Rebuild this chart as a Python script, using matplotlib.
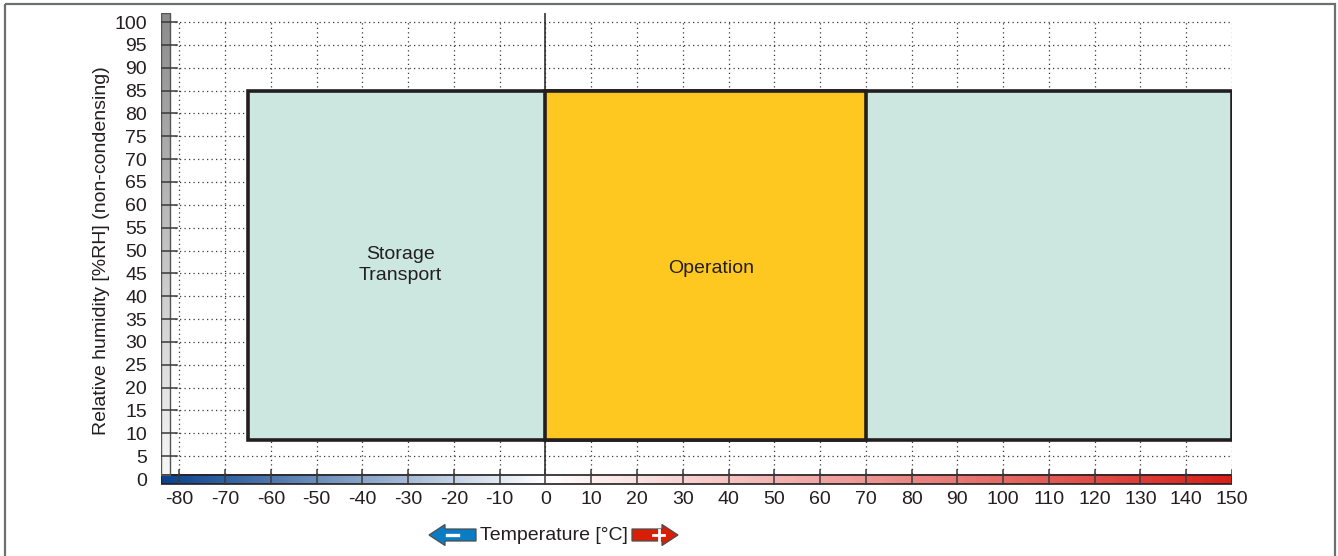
import numpy as np
import matplotlib.pyplot as plt
from matplotlib.colors import LinearSegmentedColormap
from matplotlib.patches import Rectangle, FancyArrow

plt.rcParams['font.family'] = ['Liberation Sans', 'DejaVu Sans']

# chart values
x_ticks = list(range(-80, 151, 10))
y_ticks = list(range(0, 101, 5))
storage_temp = [-65, 150]
operation_temp = [0, 70]
humidity = [8.5, 85]
storage_label = "Storage\nTransport"
operation_label = "Operation"
x_label = "Temperature [°C]"
y_label = "Relative humidity [%RH] (non-condensing)"

TXT = "#231f20"
FS = 14
X_MIN, X_MAX = -84, 150
Y_MIN, Y_MAX = -1.2, 102


def main():
    fig = plt.figure(figsize=(13.38, 5.56), dpi=100)
    fig.patch.set_facecolor("white")

    # pixel overlay for frame and arrows
    ov = fig.add_axes([0, 0, 1, 1], zorder=0)
    ov.set_xlim(0, 1338)
    ov.set_ylim(556, 0)
    ov.axis("off")
    ov.add_patch(Rectangle((5, 4), 1330, 600, fill=False, ec="#6d6e70", lw=1.6))

    ax = fig.add_axes([161 / 1338, (556 - 484.5) / 556, 1071 / 1338, 471.6 / 556], zorder=1)
    ax.set_xlim(X_MIN, X_MAX)
    ax.set_ylim(Y_MIN, Y_MAX)
    ax.patch.set_alpha(0)
    for s in ax.spines.values():
        s.set_visible(False)

    # grid
    for x in x_ticks:
        ax.plot([x, x], [1, 100], ls=(0, (1, 2.6)), color="#3a3a3a", lw=0.9, zorder=1)
    for y in y_ticks[1:]:
        ax.plot([-81, 150], [y, y], ls=(0, (1, 2.6)), color="#3a3a3a", lw=0.9, zorder=1)

    # boxes
    ax.add_patch(Rectangle((storage_temp[0], humidity[0]), storage_temp[1] - storage_temp[0],
                           humidity[1] - humidity[0], fc="#cbe7df", ec=TXT, lw=2.6, zorder=3))
    ax.add_patch(Rectangle((operation_temp[0], humidity[0]), operation_temp[1] - operation_temp[0],
                           humidity[1] - humidity[0], fc="#fec820", ec=TXT, lw=2.6, zorder=4))
    ax.plot([0, 0], [1, Y_MAX], color=TXT, lw=1.1, zorder=2)

    ax.text(-31.7, 46.8, storage_label,
            ha="center", va="center", fontsize=FS, color=TXT, linespacing=1.3, zorder=5)
    ax.text(36.3, 46.0, operation_label,
            ha="center", va="center", fontsize=FS, color=TXT, zorder=5)

    # temperature colour bar
    cmap = LinearSegmentedColormap.from_list(
        "temp", [(0, "#0a428c"), ((0 - X_MIN) / (X_MAX - X_MIN), "#ffffff"), (1, "#d7201a")])
    grad = np.linspace(0, 1, 600).reshape(1, -1)
    ax.imshow(grad, cmap=cmap, aspect="auto", extent=(X_MIN, X_MAX, -1.1, 0.9), zorder=2)
    ax.add_patch(Rectangle((X_MIN, -1.1), X_MAX - X_MIN, 2.0, fill=False, ec=TXT, lw=1.2, zorder=3))

    # humidity grey bar
    vgrad = np.linspace(1, 0, 300).reshape(-1, 1)
    gcmap = LinearSegmentedColormap.from_list("hum", ["#f7f7f7", "#8c8c8c"])
    ax.imshow(vgrad, cmap=gcmap, aspect="auto", extent=(X_MIN, X_MIN + 2, 0.9, Y_MAX), zorder=2)
    ax.add_patch(Rectangle((X_MIN, 0.9), 2, Y_MAX - 0.9, fill=False, ec="#555555", lw=1.0, zorder=3))

    # tick marks
    for x in x_ticks:
        ax.plot([x, x], [-1.3, 2.0], color="#3a3a3a", lw=1.1, zorder=4)
    for y in y_ticks[1:]:
        ax.plot([-84.8, -80.6], [y, y], color="#3a3a3a", lw=1.1, zorder=4)

    ax.set_xticks(x_ticks)
    ax.set_xticklabels([str(v) for v in x_ticks])
    ax.set_yticks(y_ticks)
    ax.set_yticklabels([str(v) for v in y_ticks])
    ax.tick_params(axis="x", length=0, pad=5, labelsize=FS, labelcolor=TXT)
    ax.tick_params(axis="y", length=0, pad=10, labelsize=FS, labelcolor=TXT)

    fig.text(102 / 1338, 1 - 251 / 556, y_label, rotation=90, ha="center", va="center",
             fontsize=FS, color=TXT)

    # temperature label with arrows
    ov.text(554, 535, x_label, ha="center", va="center", fontsize=FS, color=TXT)
    ov.add_patch(FancyArrow(476, 535, -47, 0, width=12, head_width=21, head_length=16,
                            length_includes_head=True, fc="#0a7cc3", ec="#4d4d4f", lw=0.9))
    ov.plot([447, 458], [535, 535], color="white", lw=2.4)
    ov.add_patch(FancyArrow(632, 535, 46, 0, width=12, head_width=21, head_length=16,
                            length_includes_head=True, fc="#d81e05", ec="#4d4d4f", lw=0.9))
    ov.plot([653, 664], [535, 535], color="white", lw=2.0)
    ov.plot([658.5, 658.5], [529.5, 540.5], color="white", lw=2.0)

    fig.savefig("out.png", dpi=100)
    plt.close(fig)


main()
